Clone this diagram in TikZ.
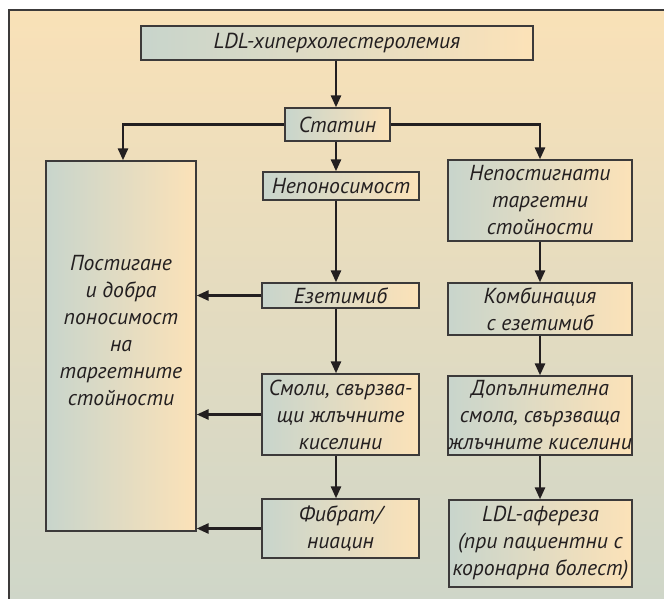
\documentclass[tikz,border=0pt]{standalone}
\usepackage{fontspec}
\setmainfont{PT Sans}
\usetikzlibrary{arrows.meta}
\definecolor{bgtop}{HTML}{F9E1B7}
\definecolor{bgbot}{HTML}{CED6C9}
\definecolor{boxl}{HTML}{C8D5CC}
\definecolor{boxr}{HTML}{FCE2B8}
\definecolor{ink}{HTML}{231F20}
\definecolor{edge}{HTML}{3C3A3A}
\newlength\twa
\newlength\twb
\newlength\twc
\newlength\twd
\AtBeginDocument{%
  \settowidth\twa{\normalfont\fontsize{10}{12}\selectfont\itshape LDL-хиперхолестеролемия}%
  \settowidth\twb{\normalfont\fontsize{10}{12}\selectfont\itshape Непоносимост}%
  \settowidth\twc{\normalfont\fontsize{10}{12}\selectfont\itshape Статин}%
  \settowidth\twd{\normalfont\fontsize{10}{12}\selectfont\itshape Постигане}%
  \pgfmathsetmacro\fsz{(2400/\twa + 1360/\twb + 850/\twc + 960/\twd)/4}%
  \xdef\fsz{\fsz}%
}
\tikzset{
  box/.style={draw=edge, line width=1.3pt, left color=boxl, right color=boxr,
    inner sep=0pt, align=center, text=ink,
    font=\fontsize{\fsz}{27}\selectfont\itshape},
  lbl/.style={inner sep=0pt, align=center, text=ink,
    font=\fontsize{\fsz}{27}\selectfont\itshape},
  arr/.style={draw=ink, line width=2.6pt, -{Triangle[length=12pt,width=10pt]}}
}
\begin{document}
\begin{tikzpicture}[x=1pt,y=-1pt]
\useasboundingbox (0,0) rectangle (664,599);
\clip (0,0) rectangle (664,599);
\fill[white] (0,0) rectangle (664,599);
\path[draw=edge, line width=1.6pt, top color=bgtop, bottom color=bgbot] (9,10) rectangle (680,612);
\coordinate (cx) at (336,0);
\coordinate (lx) at (123,0);
\coordinate (rx) at (540,0);
\node[box, minimum width=392pt, minimum height=34pt] (ldl) at (337,43) {LDL-хиперхолестеролемия};
\node[box, minimum width=105pt, minimum height=33pt] (statin) at (337.5,124.5) {Статин};
\node[box, minimum width=150pt, minimum height=370pt] (left) at (121,346) {};
\node[lbl] (lefttext) at (121,331) {Постигане\\и добра\\поносимост\\на\\таргетните\\стойности};
\node[box, minimum width=156pt, minimum height=28pt] (nepon) at (341,186) {Непоносимост};
\node[box, minimum width=184pt, minimum height=81pt] (nepost) at (540,200.5) {Непостигнати\\таргетни\\стойности};
\node[box, minimum width=157pt, minimum height=25pt] (ezet) at (340.5,295.5) {Езетимиб};
\node[box, minimum width=184pt, minimum height=52pt] (komb) at (540,309) {Комбинация\\с езетимиб};
\node[box, minimum width=157pt, minimum height=81pt] (smoli) at (340.5,414.5) {Смоли, свързва-\\щи жлъчните\\киселини};
\node[box, minimum width=184pt, minimum height=79pt] (dop) at (540,415.5) {Допълнителна\\смола, свързваща\\жлъчните киселини};
\node[box, minimum width=157pt, minimum height=59pt] (fibr) at (340.5,528.5) {Фибрат/\\ниацин};
\node[box, minimum width=183pt, minimum height=87pt] (afer) at (540.5,543.5) {LDL-афереза\\(при пациентни с\\коронарна болест)};
\draw[arr] (ldl.south -| cx) -- (statin.north -| cx);
\draw[arr] (statin.west) -| (left.north -| lx);
\draw[arr] (statin.east) -| (nepost.north -| rx);
\draw[arr] (statin.south -| cx) -- (nepon.north -| cx);
\draw[arr] (nepon.south -| cx) -- (ezet.north -| cx);
\draw[arr] (ezet.south -| cx) -- (smoli.north -| cx);
\draw[arr] (smoli.south -| cx) -- (fibr.north -| cx);
\draw[arr] (ezet.west) -- (left.east |- ezet.west);
\draw[arr] (smoli.west) -- (left.east |- smoli.west);
\draw[arr] (fibr.west) -- (left.east |- fibr.west);
\draw[arr] (nepost.south -| rx) -- (komb.north -| rx);
\draw[arr] (komb.south -| rx) -- (dop.north -| rx);
\draw[arr] (dop.south -| rx) -- (afer.north -| rx);
\end{tikzpicture}
\end{document}
